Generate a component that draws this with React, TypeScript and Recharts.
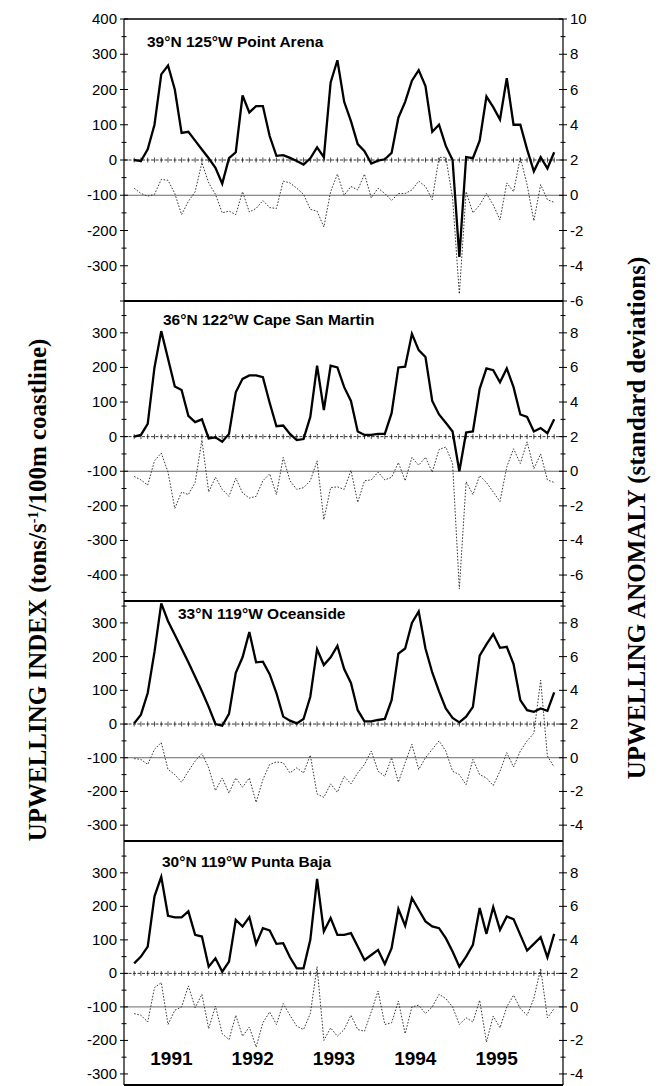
import React from 'react';
import { LineChart, Line, XAxis, YAxis, ReferenceLine, ReferenceDot } from 'recharts';

// monthly values, Jan 1991 .. Mar 1996
const pointArenaIndex = [0, -3, 30, 100, 243, 268, 200, 77, 80, 55, 30, 5, -22, -67, 5, 22, 183, 135, 153, 153, 68, 12, 14, 6, -3, -13, 5, 36, 8, 220, 283, 165, 110, 45, 25, -10, -2, 2, 20, 120, 165, 225, 255, 210, 80, 100, 40, 0, -275, 8, 5, 55, 180, 150, 115, 232, 100, 100, 30, -32, 8, -24, 22];
const pointArenaAnomaly = [0.4, 0.1, -0.05, 0.05, 0.9, 0.85, 0.1, -1.1, -0.35, 0.2, 1.85, 0.7, 0.05, -1.0, -0.9, -1.1, 0.2, -0.95, -0.75, -0.3, -0.7, -0.75, 0.8, 0.7, 0.4, 0.05, -0.8, -0.9, -1.8, 0.2, 1.2, 0, 0.5, 0.3, 1.2, -0.15, 0.4, 0.1, -0.3, 0.1, 0.1, 0.3, 0.8, 0.5, -0.25, 2.15, 2.15, -0.15, -5.6, 0.2, -1.0, -0.55, 0.1, -0.55, -1.4, 0.7, 0.2, 2.15, 0.6, -1.45, 0.6, -0.25, -0.4];

const capeSanMartinIndex = [0, 5, 37, 200, 305, 225, 145, 135, 60, 42, 50, -5, -2, -15, 8, 128, 167, 177, 177, 172, 98, 30, 32, 8, -10, -7, 57, 205, 77, 205, 200, 143, 103, 15, 5, 5, 8, 8, 68, 200, 202, 297, 250, 230, 103, 64, 40, 15, -100, 12, 15, 138, 197, 192, 157, 197, 143, 64, 57, 15, 25, 10, 50];
const capeSanMartinAnomaly = [-0.3, -0.5, -0.8, 0.6, 1.05, -0.05, -2.15, -1.2, -1.35, -0.65, 1.8, -1.2, -0.35, -1.05, -1.45, -0.4, -1.25, -1.55, -1.45, -0.55, -0.15, -1.35, 0.8, -0.55, -1.05, -0.95, -0.55, 0.6, -2.8, -0.95, -0.9, -1.05, 0.05, -1.8, -0.55, -0.5, -0.05, -0.5, -0.35, 0.5, -0.55, 0.8, 0.35, 0.8, -0.05, 1.25, 1.4, 0.45, -6.8, -0.6, -1.35, -0.25, -0.65, -1.2, -1.75, 0.25, 1.3, 0.45, 1.7, 0.15, 1.0, -0.5, -0.65];

const oceansideIndex = [2, 28, 92, 214, 358, 305, 265, 224, 183, 140, 97, 51, 0, -5, 30, 152, 198, 273, 183, 185, 148, 92, 22, 10, 2, 15, 81, 222, 175, 198, 232, 163, 122, 41, 8, 8, 12, 15, 71, 209, 224, 300, 334, 224, 153, 97, 46, 18, 5, 22, 51, 203, 236, 267, 226, 229, 178, 71, 41, 36, 46, 39, 94];
const oceansideAnomaly = [-0.05, -0.1, -0.4, 0.5, 0.9, -0.7, -1.0, -1.45, -0.8, -0.2, 0.25, -0.6, -1.95, -1.2, -2.1, -1.2, -1.75, -1.2, -2.65, -1.3, -0.4, -0.25, -0.3, -0.9, -0.6, -0.9, 0.15, -2.15, -2.35, -1.55, -2.05, -1.1, -1.55, -0.9, -0.4, 0.4, -0.8, -1.1, 0, -1.45, -0.3, 0.8, -0.7, 0, 0.5, 1.0, 0.4, -0.8, -1.0, -1.6, -0.1, -1.0, -1.2, -1.65, -0.8, 0.3, -0.55, 0.4, 1.0, 1.45, 4.6, 0.1, -0.55];

const puntaBajaIndex = [30, 50, 80, 230, 288, 172, 167, 167, 185, 115, 110, 20, 45, 5, 35, 160, 140, 168, 88, 135, 128, 88, 90, 48, 15, 15, 100, 282, 125, 165, 115, 115, 120, 80, 40, 55, 70, 28, 75, 192, 142, 225, 190, 155, 140, 135, 105, 65, 20, 50, 85, 195, 118, 198, 130, 170, 162, 115, 68, 88, 108, 48, 118];
const puntaBajaAnomaly = [-0.4, -0.5, -0.9, 1.15, 1.45, -1.05, -0.2, 0, 1.25, -0.05, 0.75, -1.3, 0.05, -1.6, -1.95, -0.5, -1.75, -1.2, -2.4, -0.95, -0.3, -1.05, 0.2, -0.5, -1.15, -1.35, -0.4, 2.4, -2.0, -1.25, -1.75, -1.35, -0.5, -1.35, -1.45, -0.3, 0.95, -1.05, -0.95, 0.35, -1.6, 0, 0.1, -0.4, 0, 0.75, 0.5, 0, -1.05, -0.65, -0.9, 0.4, -2.1, -0.55, -1.25, 0, 0.7, -0.1, -0.5, 0.5, 2.3, -0.65, -0.1];

const months = pointArenaIndex.map((_, i) => i);

const yearLabels = ['1991', '1992', '1993', '1994', '1995'];
const yearTicks = [5.5, 17.5, 29.5, 41.5, 53.5];

const p1LeftTicks = [-400, -350, -300, -250, -200, -150, -100, -50, 0, 50, 100, 150, 200, 250, 300, 350, 400];
const p1LeftLabels = [-300, -200, -100, 0, 100, 200, 300, 400];
const p1RightTicks = [-6, -5, -4, -3, -2, -1, 0, 1, 2, 3, 4, 5, 6, 7, 8, 9, 10];
const p1RightLabels = [-6, -4, -2, 0, 2, 4, 6, 8, 10];

const p2LeftTicks = [-450, -400, -350, -300, -250, -200, -150, -100, -50, 0, 50, 100, 150, 200, 250, 300, 350];
const p2LeftLabels = [-400, -300, -200, -100, 0, 100, 200, 300];
const p2RightTicks = [-7, -6, -5, -4, -3, -2, -1, 0, 1, 2, 3, 4, 5, 6, 7, 8, 9];
const p2RightLabels = [-6, -4, -2, 0, 2, 4, 6, 8];

const p34LeftTicks = [-300, -250, -200, -150, -100, -50, 0, 50, 100, 150, 200, 250, 300, 350];
const p34LeftLabels = [-300, -200, -100, 0, 100, 200, 300];
const p34RightTicks = [-4, -3, -2, -1, 0, 1, 2, 3, 4, 5, 6, 7, 8, 9];
const p34RightLabels = [-4, -2, 0, 2, 4, 6, 8];

const W = 667;
const PLOT_LEFT = 124;
const PLOT_RIGHT = 563;
const SANS = '"Liberation Sans", Arial, Helvetica, sans-serif';
const SERIF = '"Liberation Serif", "Times New Roman", serif';

// right axis is the same scale as the left one: sd = (index + 100) / 50
const toSd = (v: number) => (v + 100) / 50;

const panels = [
  {
    title: '39°N 125°W Point Arena', titleX: 147, titleY: 47,
    index: pointArenaIndex, anomaly: pointArenaAnomaly,
    top: 19, bottom: 301, domain: [-400, 400],
    leftTicks: p1LeftTicks, leftLabels: p1LeftLabels, rightTicks: p1RightTicks, rightLabels: p1RightLabels,
  },
  {
    title: '36°N 122°W Cape San Martin', titleX: 163, titleY: 325,
    index: capeSanMartinIndex, anomaly: capeSanMartinAnomaly,
    top: 301, bottom: 601, domain: [-475, 392],
    leftTicks: p2LeftTicks, leftLabels: p2LeftLabels, rightTicks: p2RightTicks, rightLabels: p2RightLabels,
  },
  {
    title: '33°N 119°W Oceanside', titleX: 178, titleY: 619,
    index: oceansideIndex, anomaly: oceansideAnomaly,
    top: 601, bottom: 841, domain: [-347, 365],
    leftTicks: p34LeftTicks, leftLabels: p34LeftLabels, rightTicks: p34RightTicks, rightLabels: p34RightLabels,
  },
  {
    title: '30°N 119°W Punta Baja', titleX: 162, titleY: 867,
    index: puntaBajaIndex, anomaly: puntaBajaAnomaly,
    top: 841, bottom: 1085, domain: [-333, 395],
    leftTicks: p34LeftTicks, leftLabels: p34LeftLabels, rightTicks: p34RightTicks, rightLabels: p34RightLabels,
  },
];

const makeLeftTick = (labels: number[]) => (props: any) => {
  const { x, y, payload } = props;
  const v = payload.value;
  const major = v % 100 === 0;
  const len = major ? 4 : 2.5;
  return (
    <g>
      <line x1={x - len} x2={x + len} y1={y} y2={y} stroke="#000" strokeWidth={1} />
      {labels.includes(v) && (
        <text x={x - 7} y={y} dy={5} textAnchor="end" fontSize={15} fontFamily={SANS} fill="#000">
          {v}
        </text>
      )}
    </g>
  );
};

const makeRightTick = (labels: number[]) => (props: any) => {
  const { x, y, payload } = props;
  const v = payload.value;
  const major = v % 2 === 0;
  const len = major ? 4 : 2.5;
  return (
    <g>
      <line x1={x - len} x2={x + len} y1={y} y2={y} stroke="#000" strokeWidth={1} />
      {labels.includes(v) && (
        <text x={x + 7} y={y} dy={5} textAnchor="start" fontSize={15} fontFamily={SANS} fill="#000">
          {v}
        </text>
      )}
    </g>
  );
};

const YearTick = (props: any) => {
  const { x, y, payload } = props;
  const label = yearLabels[yearTicks.indexOf(payload.value)];
  return (
    <text x={x} y={y - 20} textAnchor="middle" fontSize={19} fontWeight="bold" fontFamily={SANS} fill="#000">
      {label}
    </text>
  );
};

const MonthMark = (props: any) => (
  <line x1={props.cx} x2={props.cx} y1={props.cy - 2.5} y2={props.cy + 2.5} stroke="#000" strokeWidth={0.7} />
);

function Panel({ p, last }: { p: (typeof panels)[number]; last: boolean }) {
  const data = months.map((m, i) => ({ m, index: p.index[i], anomaly: p.anomaly[i] }));
  const h = p.bottom - p.top + 20;
  const rightDomain = [toSd(p.domain[0]), toSd(p.domain[1])];

  return (
    <div style={{ position: 'absolute', left: 0, top: p.top - 10 }}>
      <LineChart
        width={W}
        height={h}
        data={data}
        margin={{ top: 9, bottom: 9, left: PLOT_LEFT - 1, right: W - PLOT_RIGHT - 1 }}
      >
        <XAxis
          dataKey="m"
          type="number"
          domain={[-1.5, 63.3]}
          height={1}
          axisLine={{ stroke: '#000', strokeWidth: 2 }}
          tickLine={false}
          tickSize={0}
          tickMargin={0}
          ticks={last ? yearTicks : []}
          tick={last ? <YearTick /> : false}
          interval={0}
        />
        <XAxis
          xAxisId="top"
          orientation="top"
          dataKey="m"
          type="number"
          domain={[-1.5, 63.3]}
          height={1}
          axisLine={{ stroke: '#000', strokeWidth: 1.5 }}
          tick={false}
          tickLine={false}
        />
        <YAxis
          yAxisId="left"
          width={1}
          domain={p.domain}
          ticks={p.leftTicks}
          interval={0}
          tickSize={0}
          tickMargin={0}
          tickLine={false}
          axisLine={{ stroke: '#000', strokeWidth: 1.2 }}
          tick={makeLeftTick(p.leftLabels)}
          allowDataOverflow
        />
        <YAxis
          yAxisId="right"
          orientation="right"
          width={1}
          domain={rightDomain}
          ticks={p.rightTicks}
          interval={0}
          tickSize={0}
          tickMargin={0}
          tickLine={false}
          axisLine={{ stroke: '#000', strokeWidth: 1.2 }}
          tick={makeRightTick(p.rightLabels)}
          allowDataOverflow
        />
        <ReferenceLine yAxisId="left" y={0} stroke="#000" strokeWidth={0.8} strokeDasharray="3 1.5" />
        <ReferenceLine yAxisId="left" y={-100} stroke="#444" strokeWidth={0.8} />
        {months.map((m) => (
          <ReferenceDot key={m} yAxisId="left" x={m} y={0} r={0} shape={<MonthMark />} />
        ))}
        <Line
          yAxisId="right"
          dataKey="anomaly"
          type="linear"
          stroke="#222"
          strokeWidth={0.9}
          strokeDasharray="1.6 1.6"
          dot={false}
          isAnimationActive={false}
        />
        <Line
          yAxisId="left"
          dataKey="index"
          type="linear"
          stroke="#000"
          strokeWidth={2.3}
          dot={false}
          isAnimationActive={false}
        />
      </LineChart>
    </div>
  );
}

export default function App() {
  return (
    <div style={{ position: 'absolute', left: 0, top: 0, width: W, height: 1086, background: '#fff' }}>
      {panels.map((p, i) => (
        <Panel key={p.title} p={p} last={i === panels.length - 1} />
      ))}
      <svg
        width={W}
        height={1086}
        style={{ position: 'absolute', left: 0, top: 0, pointerEvents: 'none' }}
      >
        {panels.map((p) => (
          <text key={p.title} x={p.titleX} y={p.titleY} fontSize={15.5} fontWeight="bold" fontFamily={SANS} fill="#000">
            {p.title}
          </text>
        ))}
        <text
          transform="translate(46, 590) rotate(-90)"
          textAnchor="middle"
          fontSize={25}
          fontWeight="bold"
          fontFamily={SERIF}
          fill="#000"
        >
          UPWELLING INDEX (tons/s<tspan dy={-8} fontSize={14}>-1</tspan>
          <tspan dy={8}>/100m coastline)</tspan>
        </text>
        <text
          transform="translate(645, 518) rotate(-90)"
          textAnchor="middle"
          fontSize={25}
          fontWeight="bold"
          fontFamily={SERIF}
          fill="#000"
        >
          UPWELLING ANOMALY (standard deviations)
        </text>
      </svg>
    </div>
  );
}
